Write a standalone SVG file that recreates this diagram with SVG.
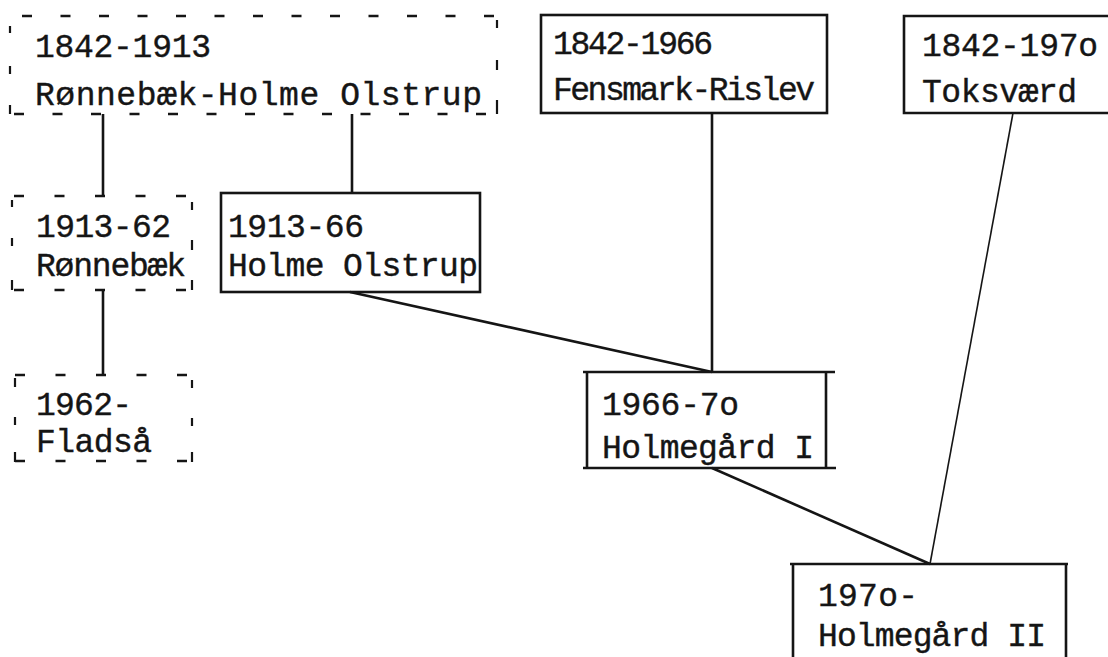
<svg xmlns="http://www.w3.org/2000/svg" width="1108" height="657" viewBox="0 0 1108 657">
<style>
  text { font-family: "Liberation Mono", "DejaVu Sans Mono", monospace; font-size: 33px; fill: #151515; stroke: #151515; stroke-width: 0.4; }
  .box { fill: none; stroke: #151515; stroke-width: 2.6; }
  .dash { fill: none; stroke: #151515; stroke-width: 2.6; stroke-dasharray: 10 28.5; }
  .dash2 { fill: none; stroke: #151515; stroke-width: 2.6; stroke-dasharray: 10 30.5; }
  .tick { fill: none; stroke: #151515; stroke-width: 2.2; }
  .conn { fill: none; stroke: #151515; stroke-width: 2.6; }
  .thin { fill: none; stroke: #151515; stroke-width: 1.6; }
</style>
<rect width="1108" height="657" fill="#ffffff"/>

<g id="connectors">
  <line class="conn" x1="103" y1="114" x2="103" y2="196"/>
  <line class="conn" x1="352" y1="114" x2="352" y2="193"/>
  <line class="conn" x1="103" y1="290" x2="103" y2="375"/>
  <line class="conn" x1="712" y1="113" x2="712" y2="372"/>
  <line class="conn" x1="350" y1="292" x2="712" y2="372"/>
  <line class="conn" x1="712" y1="468" x2="930" y2="564"/>
  <line class="thin" x1="1013" y1="113" x2="930" y2="564"/>
</g>

<g id="node-1842-1913">
  <line class="dash" x1="22" y1="16" x2="495" y2="16"/>
  <line class="dash" x1="14" y1="114" x2="495" y2="114"/>
  <path class="tick" d="M10,26 V33 M10,66 V74 M10,105 V114 M497,20 V28 M497,60 V70 M497,100 V114"/>
  <text x="35" y="57" textLength="176" lengthAdjust="spacing">1842-1913</text>
  <text x="35" y="105" textLength="447" lengthAdjust="spacing">Rønnebæk-Holme Olstrup</text>
</g>

<g id="node-1842-1966">
  <rect class="box" x="541" y="15" width="286" height="98"/>
  <text x="553" y="54" textLength="160" lengthAdjust="spacing">1842-1966</text>
  <text x="553" y="100" textLength="262" lengthAdjust="spacing">Fensmark-Rislev</text>
</g>

<g id="node-1842-1970">
  <path class="box" d="M1108,16 H904 V113 H1108"/>
  <text x="922" y="56" textLength="176" lengthAdjust="spacing">1842-197o</text>
  <text x="922" y="102" textLength="155" lengthAdjust="spacing">Toksværd</text>
</g>

<g id="node-1913-62">
  <line class="dash2" x1="14" y1="196" x2="187" y2="196"/>
  <line class="dash2" x1="14" y1="290" x2="187" y2="290"/>
  <path class="tick" d="M12,200 V207 M12,238 V246 M12,280 V290 M192,202 V210 M192,240 V250 M192,280 V290"/>
  <text x="36" y="237" textLength="135" lengthAdjust="spacing">1913-62</text>
  <text x="36" y="276" textLength="150" lengthAdjust="spacing">Rønnebæk</text>
</g>

<g id="node-1913-66">
  <rect class="box" x="221" y="193" width="259" height="99"/>
  <text x="228" y="237" textLength="136" lengthAdjust="spacing">1913-66</text>
  <text x="228" y="276" textLength="250" lengthAdjust="spacing">Holme Olstrup</text>
</g>

<g id="node-1962">
  <line class="dash2" x1="15" y1="375" x2="188" y2="375"/>
  <line class="dash2" x1="15" y1="461" x2="188" y2="461"/>
  <path class="tick" d="M15,378 V387 M15,417 V425 M15,452 V462 M192,380 V388 M192,418 V426 M192,452 V462"/>
  <text x="36" y="415" textLength="96" lengthAdjust="spacing">1962-</text>
  <text x="36" y="452" textLength="116" lengthAdjust="spacing">Fladså</text>
</g>

<g id="node-1966-70">
  <path class="box" d="M583,372 H835 M583,468 H836 M587,372 V468 M826,372 V468"/>
  <text x="602" y="415" textLength="137" lengthAdjust="spacing">1966-7o</text>
  <text x="602" y="458" textLength="212" lengthAdjust="spacing">Holmegård I</text>
</g>

<g id="node-1970">
  <path class="box" d="M790,564 H1068 M793,564 V657 M1066,564 V657"/>
  <text x="818" y="606" textLength="100" lengthAdjust="spacing">197o-</text>
  <text x="818" y="646" textLength="228" lengthAdjust="spacing">Holmegård II</text>
</g>
</svg>
